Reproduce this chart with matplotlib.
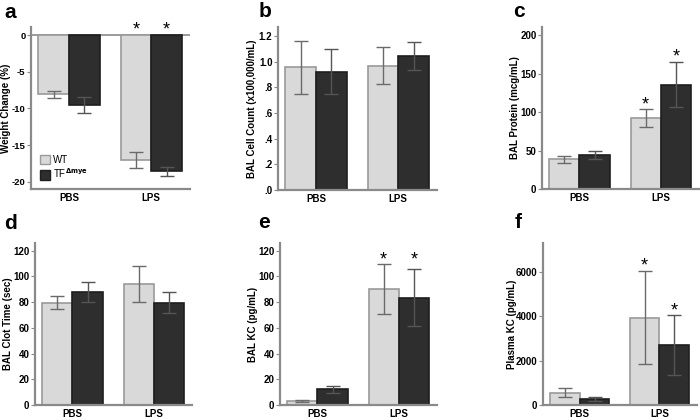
import numpy as np
import matplotlib
matplotlib.use("Agg")
import matplotlib.pyplot as plt
from matplotlib.patches import Patch
from matplotlib.ticker import FuncFormatter

plt.rcParams['font.family'] = ['Liberation Sans', 'DejaVu Sans']
plt.rcParams['font.weight'] = 'bold'
plt.rcParams['axes.unicode_minus'] = False  # plain hyphen like the reference

groups = ['PBS', 'LPS']

# panel a - weight change (%)
wt_a = [-8.1, -17.0]; wt_a_err = [0.45, 1.1]
tf_a = [-9.5, -18.6]; tf_a_err = [1.1, 0.6]
# panel b - BAL cell count
wt_b = [0.955, 0.97]; wt_b_err = [0.205, 0.145]
tf_b = [0.92, 1.045]; tf_b_err = [0.175, 0.11]
# panel c - BAL protein
wt_c = [39, 92.5]; wt_c_err = [4.5, 12]
tf_c = [44, 136]; tf_c_err = [5, 29]
# panel d - clot time
wt_d = [79.7, 94]; wt_d_err = [5.2, 14]
tf_d = [87.8, 79.7]; tf_d_err = [7.5, 8.3]
# panel e - BAL KC
wt_e = [3.1, 90]; wt_e_err = [0.7, 19.5]
tf_e = [12.2, 83.4]; tf_e_err = [2.7, 22.3]
# panel f - plasma KC
wt_f = [560, 3940]; wt_f_err = [220, 2090]
tf_f = [258, 2700]; tf_f_err = [85, 1340]

WT_COLOR = '#d9d9d9'
TF_COLOR = '#2e2e2e'
SPINE = '#8a8a8a'
W = 0.372
x = np.arange(len(groups))

fig = plt.figure(figsize=(7, 4.2), dpi=100)

def px_axes(left, top, right, bottom):
    # axes from pixel box (700x420 canvas)
    return fig.add_axes([left / 700, 1 - bottom / 420, (right - left) / 700, (bottom - top) / 420])

def draw_panel(ax, wt, wt_err, tf, tf_err, ylim, yticks, ylabel, labx):
    ax.bar(x - W / 2, wt, W, color=WT_COLOR, edgecolor='#9a9a9a', linewidth=1.2, zorder=2)
    ax.bar(x + W / 2, tf, W, color=TF_COLOR, edgecolor='#1e1e1e', linewidth=1.2, zorder=2)
    ax.errorbar(x - W / 2, wt, yerr=wt_err, fmt='none', ecolor='#6a6a6a', elinewidth=1, capsize=5, capthick=1, zorder=3)
    ax.errorbar(x + W / 2, tf, yerr=tf_err, fmt='none', ecolor='#555555', elinewidth=1, capsize=5, capthick=1, zorder=3)
    ax.set_xlim(-0.46, 1.47)
    ax.set_ylim(*ylim)
    ax.set_yticks(yticks)
    ax.set_xticks(x)
    ax.set_xticklabels(groups)
    for s in ['top', 'right']:
        ax.spines[s].set_visible(False)
    for s in ['left', 'bottom']:
        ax.spines[s].set_color(SPINE)
        ax.spines[s].set_linewidth(1.6)
    ax.tick_params(axis='y', length=3, color=SPINE, labelsize=7, pad=1)
    ax.tick_params(axis='x', length=0, labelsize=7, pad=3)
    ax.set_ylabel(ylabel, fontsize=7, fontweight='bold')
    ax.yaxis.set_label_coords(labx, 0.5)

def stars(ax, xs, ys):
    for xi, yi in zip(xs, ys):
        ax.text(xi, yi, '*', fontsize=13, fontweight='normal', ha='center', va='center', clip_on=False)

# a
ax = px_axes(31, 27, 190, 189)
draw_panel(ax, wt_a, wt_a_err, tf_a, tf_a_err, (-21, 1.1), [0, -5, -10, -15, -20], 'Weight Change (%)', -0.125)
ax.tick_params(axis='y', labelsize=6.8)
ax.axhline(0, color=SPINE, lw=1.2, zorder=1)
stars(ax, [1 - W / 2, 1 + W / 2], [0.7, 0.7])
ax.legend(handles=[Patch(facecolor=WT_COLOR, edgecolor='#9a9a9a', label='WT'),
                   Patch(facecolor=TF_COLOR, edgecolor='#1e1e1e', label='TF$^{\\Delta\\mathrm{mye}}$')],
          loc='lower left', frameon=False, handlelength=1.1, handleheight=1.1,
          handletextpad=0.3, labelspacing=0.15, borderaxespad=0.5, prop={'weight': 'normal', 'size': 7})

# b
ax = px_axes(278, 27, 437, 190)
draw_panel(ax, wt_b, wt_b_err, tf_b, tf_b_err, (0, 1.27), [0, 0.2, 0.4, 0.6, 0.8, 1.0, 1.2],
           'BAL Cell Count (x100,000/mL)', -0.13)
ax.yaxis.set_major_formatter(FuncFormatter(lambda v, p: ('%.1f' % v).lstrip('0') if v < 1 else '%.1f' % v))

# c
ax = px_axes(542, 27, 699, 189)
draw_panel(ax, wt_c, wt_c_err, tf_c, tf_c_err, (0, 211), [0, 50, 100, 150, 200], 'BAL Protein (mcg/mL)', -0.14)
stars(ax, [1 - W / 2, 1 + W / 2], [110, 172])

# d
ax = px_axes(35, 243, 192, 405)
draw_panel(ax, wt_d, wt_d_err, tf_d, tf_d_err, (0, 126), [0, 20, 40, 60, 80, 100, 120], 'BAL Clot Time (sec)', -0.14)

# e
ax = px_axes(280, 243, 437, 405)
draw_panel(ax, wt_e, wt_e_err, tf_e, tf_e_err, (0, 126), [0, 20, 40, 60, 80, 100, 120], 'BAL KC (pg/mL)', -0.14)
stars(ax, [1 - W / 2, 1 + W / 2], [113, 113])

# f
ax = px_axes(543, 243, 697, 405)
draw_panel(ax, wt_f, wt_f_err, tf_f, tf_f_err, (0, 7300), [0, 2000, 4000, 6000], 'Plasma KC (pg/mL)', -0.17)
stars(ax, [1 - W / 2, 1 + W / 2], [6270, 4220])

# panel letters
for lab, lx, ly in [('a', 4, 18), ('b', 259, 17), ('c', 513, 17), ('d', 4, 229), ('e', 258, 228), ('f', 515, 228)]:
    fig.text(lx / 700, 1 - ly / 420, lab, fontsize=15, fontweight='bold', va='baseline', ha='left')

fig.savefig('out.png', dpi=100, facecolor='white')
